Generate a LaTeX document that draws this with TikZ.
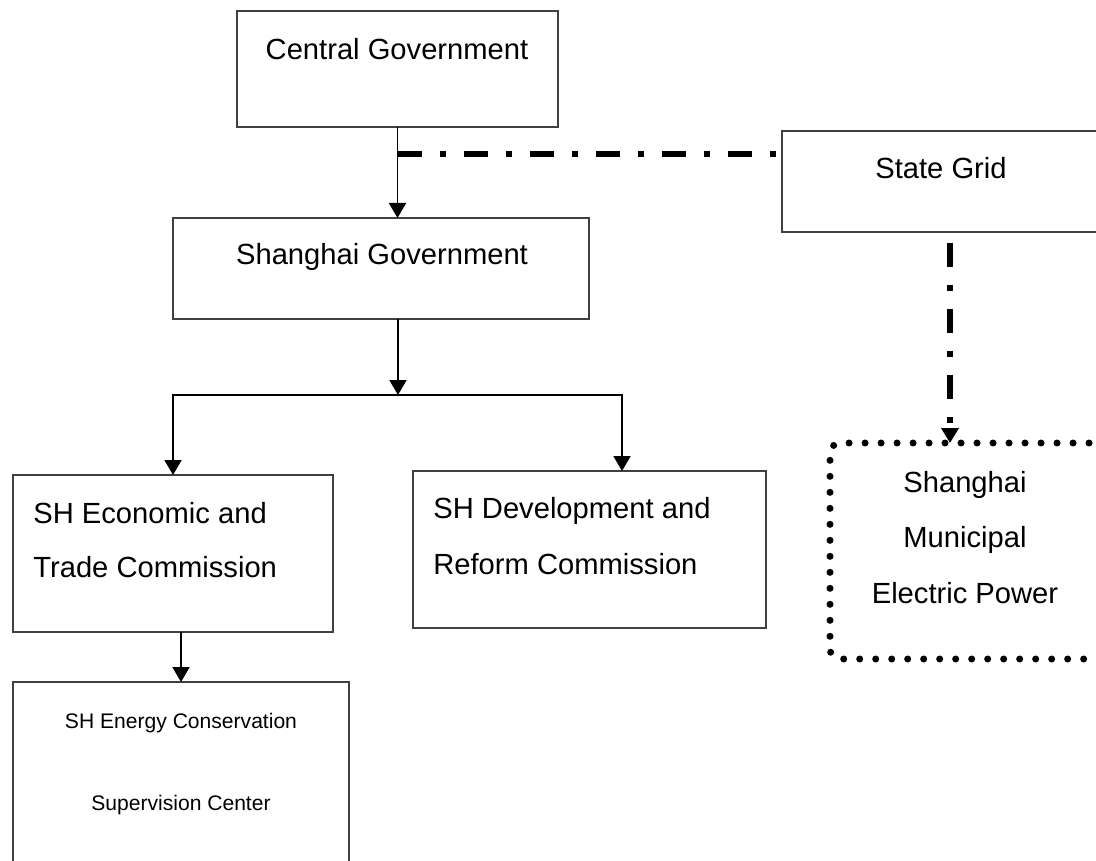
\documentclass[tikz,border=0pt]{standalone}
\usepackage{fontspec}
\setmainfont{Liberation Sans}
\usetikzlibrary{arrows.meta,fit,positioning}

\tikzset{
  box/.style={draw=black!75, line width=0.6pt, inner sep=0pt, outer sep=0pt},
  dotbox/.style={draw=black, line width=0.14cm, line cap=round, dash pattern=on 0pt off 0.32cm,
    rounded corners=0.2cm, inner sep=0pt, outer sep=0pt},
  lbl/.style={font=\fontsize{16.6}{20}\selectfont, inner sep=0pt, anchor=base},
  lblw/.style={lbl, anchor=base west},
  small/.style={font=\fontsize{12}{14}\selectfont, inner sep=0pt, anchor=base},
  arr/.style={-{Triangle[length=0.3cm,width=0.34cm]}, line width=1.1pt},
  dashdot/.style={dash pattern=on 0.48cm off 0.36cm on 0.12cm off 0.36cm}
}

\begin{document}
\begin{tikzpicture}[x=0.02cm,y=-0.02cm]
        \clip (0,0) rectangle (1096,861);
        \fill[white] (0,0) rectangle (1096,861);

        % Boxes
        \node[box, fit={(237,11) (558,127)}] (cg) {};
        \node[box, fit={(173,218) (589,319)}] (sg) {};
        \node[box, fit={(782,131) (1102,232)}] (stgrid) {};
        \node[box, fit={(13,475) (333,632)}] (ec) {};
        \node[box, fit={(413,471) (766,628)}] (dc) {};
        \node[box, fit={(13,682) (349,880)}] (ene) {};
        \node[dotbox, fit={(830,443) (1115,659)}] (smep) {};

        % Texts
        \node[lbl] (cgt) at (397,60) {Central Government};
        \node[lbl] (sgt) at (382,265) {Shanghai Government};
        \node[lbl] (stt) at (941,179) {State Grid};
        \node[lblw] (ect1) at (33,523) {SH Economic and};
        \node[lblw] (ect2) at (33,578) {Trade Commission};
        \node[lblw] (dct1) at (433,519) {SH Development and};
        \node[lblw] (dct2) at (433,575) {Reform Commission};
        \node[lbl] (spt1) at (965,493) {Shanghai};
        \node[lbl] (spt2) at (965,548) {Municipal};
        \node[lbl] (spt3) at (965,603) {Electric Power};
        \node[small] (enet1) at (181,728) {SH Energy Conservation};
        \node[small] (enet2) at (181,810) {Supervision Center};

        % Points de jonction
        \coordinate (link) at (398,154);
        \coordinate (fork) at (398,395);
        \coordinate (dctop) at (622,471);
        \coordinate (sgdrop) at (950,232);

        % Liaisons hierarchiques
        \draw[arr] (cg.south) -- (cg.south |- sg.north);
        \draw[arr] (fork |- sg.south) -- (fork);
        \draw[arr] (fork) -| (ec.north);
        \draw[arr] (fork) -| (dctop);
        \draw[arr] (ene.north |- ec.south) -- (ene.north);

        % State Grid
        \draw[dashdot, line width=3pt] (link) -- (link -| stgrid.west);
        \draw[dashdot, line width=3.4pt, shorten <=0.22cm,
              -{Triangle[length=0.3cm,width=0.34cm]}] (sgdrop) -- (sgdrop |- smep.north);
\end{tikzpicture}
\end{document}
